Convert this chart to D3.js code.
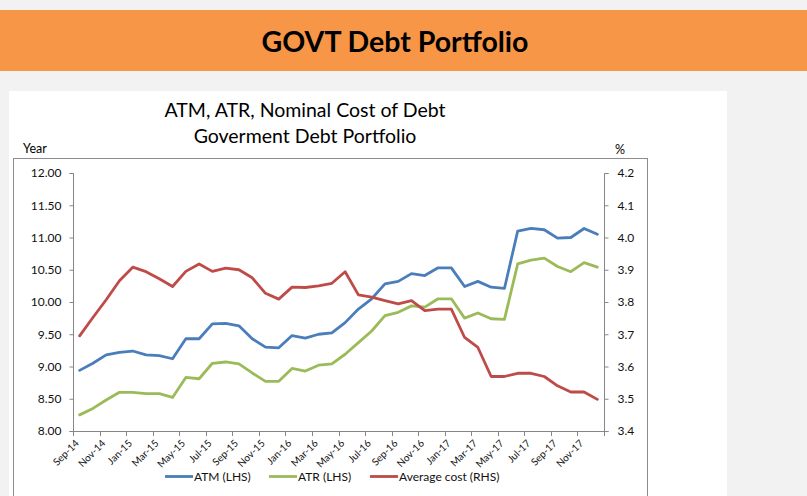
<!DOCTYPE html>
<html><head><meta charset="utf-8">
<script src="https://cdn.jsdelivr.net/npm/d3@7"></script>
<style>
html,body{margin:0;padding:0;background:#f2f2f2;}
svg{display:block;font-family:Lato,"Noto Sans",sans-serif;}
</style></head>
<body><svg id="c" width="807" height="496"></svg>
<script>
const categories = ["Sep-14","Oct-14","Nov-14","Dec-14","Jan-15","Feb-15","Mar-15","Apr-15","May-15","Jun-15",
"Jul-15","Aug-15","Sep-15","Oct-15","Nov-15","Dec-15","Jan-16","Feb-16","Mar-16","Apr-16",
"May-16","Jun-16","Jul-16","Aug-16","Sep-16","Oct-16","Nov-16","Dec-16","Jan-17","Feb-17",
"Mar-17","Apr-17","May-17","Jun-17","Jul-17","Aug-17","Sep-17","Oct-17","Nov-17","Dec-17"];
const atm = [8.94,9.05,9.18,9.22,9.24,9.18,9.17,9.12,9.43,9.43,
9.66,9.67,9.63,9.43,9.30,9.29,9.48,9.44,9.50,9.52,
9.68,9.89,10.05,10.28,10.32,10.44,10.41,10.53,10.53,10.24,
10.32,10.23,10.21,11.10,11.14,11.12,10.99,11.00,11.14,11.05];
const atr = [8.25,8.35,8.48,8.60,8.60,8.58,8.58,8.52,8.83,8.81,
9.05,9.07,9.04,8.90,8.77,8.77,8.97,8.93,9.02,9.04,
9.19,9.37,9.55,9.79,9.84,9.94,9.92,10.05,10.05,9.75,
9.83,9.74,9.73,10.59,10.65,10.68,10.55,10.47,10.61,10.54];
const avgCost = [3.695,3.752,3.807,3.866,3.908,3.894,3.872,3.848,3.895,3.918,
3.895,3.905,3.900,3.875,3.827,3.809,3.846,3.845,3.850,3.858,
3.894,3.822,3.815,3.804,3.794,3.804,3.773,3.778,3.778,3.690,
3.659,3.569,3.569,3.579,3.579,3.569,3.540,3.521,3.521,3.498];
const leftTicks = [8,8.5,9,9.5,10,10.5,11,11.5,12];
const rightTicks = [3.4,3.5,3.6,3.7,3.8,3.9,4.0,4.1,4.2];
const seriesNames = ["ATM (LHS)","ATR (LHS)","Average cost (RHS)"];
const colors = ["#4a7ebb","#9bbb59","#be4b48"];

const svg = d3.select("#c");
// header band
svg.append("rect").attr("x",0).attr("y",10).attr("width",807).attr("height",61).attr("fill","#f79646");
svg.append("text").attr("x",395).attr("y",52).attr("text-anchor","middle")
  .attr("font-size",28.5).attr("font-weight","bold").attr("fill","#000").text("GOVT Debt Portfolio");
// white panel
svg.append("rect").attr("x",9).attr("y",91).attr("width",718).attr("height",420).attr("fill","#fff");
// inner frame
svg.append("rect").attr("x",13.5).attr("y",158.5).attr("width",634).attr("height",400)
  .attr("fill","none").attr("stroke","#8c8c8c").attr("stroke-width",1);
// titles
svg.append("text").attr("x",305).attr("y",117).attr("text-anchor","middle").attr("font-size",19.5).attr("fill","#000").text("ATM, ATR, Nominal Cost of Debt");
svg.append("text").attr("x",305).attr("y",143).attr("text-anchor","middle").attr("font-size",19.5).attr("fill","#000").text("Goverment Debt Portfolio");
svg.append("text").attr("x",23).attr("y",153).attr("font-size",12.5).attr("fill","#000").text("Year");
svg.append("text").attr("x",615).attr("y",154).attr("font-size",12.5).attr("fill","#000").text("%");

const x = d3.scaleBand().domain(categories).range([73,604]);
const yL = d3.scaleLinear().domain([8,12]).range([431,173]);
const yR = d3.scaleLinear().domain([3.4,4.2]).range([431,173]);
const cx = c => x(c) + x.bandwidth()/2;

const axisColor = "#868686";
const gL = svg.append("g").attr("transform","translate(73.5,0)")
  .call(d3.axisLeft(yL).tickValues(leftTicks).tickFormat(d3.format(".2f")).tickSize(4).tickPadding(8));
const gR = svg.append("g").attr("transform","translate(604.5,0)")
  .call(d3.axisRight(yR).tickValues(rightTicks).tickFormat(d3.format(".1f")).tickSize(4).tickPadding(9));
[gL,gR].forEach(g=>{
  g.select(".domain").attr("stroke",axisColor).attr("d", g===gL ? "M-4,173.5H0V431.5H-4" : "M4,173.5H0V431.5H4");
  g.selectAll(".tick line").attr("stroke",axisColor);
  g.selectAll(".tick text").attr("font-size",12).attr("fill","#111").attr("font-family","Lato");
});

// x axis
const gx = svg.append("g");
gx.append("line").attr("x1",73).attr("x2",608).attr("y1",431.5).attr("y2",431.5).attr("stroke",axisColor);
const tickCats = categories.filter((c,i)=>i%2===0);
const tickPos = tickCats.map(c=>x(c)).concat([x.range()[1]]);
gx.selectAll("line.t").data(tickPos).join("line").attr("class","t")
  .attr("x1",d=>Math.round(d)+0.5).attr("x2",d=>Math.round(d)+0.5).attr("y1",431).attr("y2",436).attr("stroke",axisColor);
gx.selectAll("text").data(tickCats).join("text")
  .attr("transform",c=>`translate(${cx(c)},${444}) rotate(-45)`)
  .attr("text-anchor","end").attr("font-size",10).attr("fill","#111").text(c=>c);

// lines
const mk = (vals, ys) => d3.line().x((d,i)=>cx(categories[i])).y(d=>ys(d))(vals);
const series = [[atm,yL],[atr,yL],[avgCost,yR]];
series.forEach((s,k)=>{
  svg.append("path").attr("d",mk(s[0],s[1])).attr("fill","none").attr("stroke",colors[k])
    .attr("stroke-width",2.8).attr("stroke-linejoin","round").attr("stroke-linecap","round");
});

// legend
const legX = [165,269,370];
seriesNames.forEach((n,k)=>{
  svg.append("line").attr("x1",legX[k]).attr("x2",legX[k]+28).attr("y1",476.5).attr("y2",476.5)
    .attr("stroke",colors[k]).attr("stroke-width",2.8);
  svg.append("text").attr("x",legX[k]+29).attr("y",481).attr("font-size",12).attr("fill","#111").text(n);
});
</script></body></html>
